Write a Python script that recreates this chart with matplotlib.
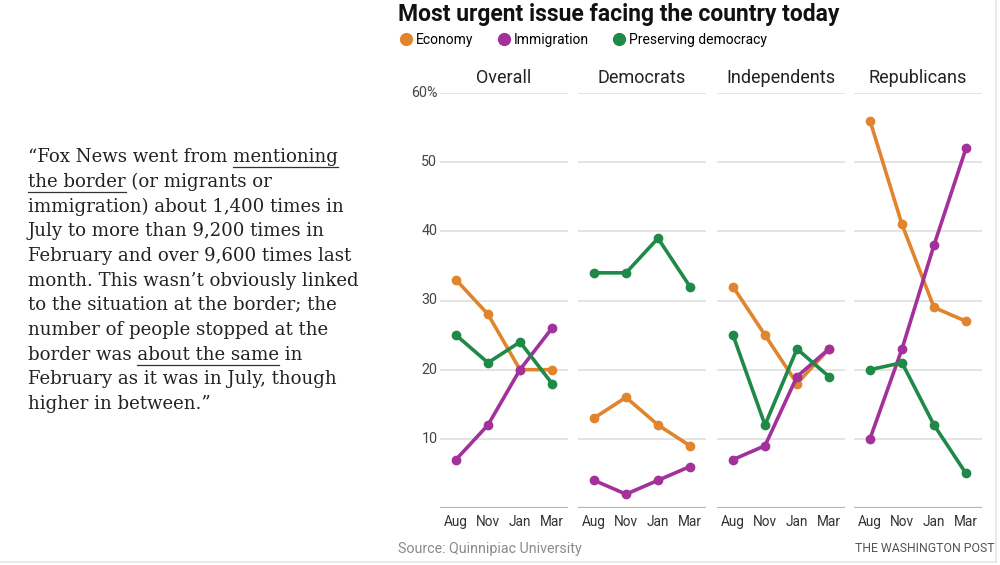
"""Most urgent issue facing the country today -- small multiples with a quote."""

import matplotlib
matplotlib.use("Agg")
import matplotlib.pyplot as plt
from matplotlib.lines import Line2D

# ---- data -----------------------------------------------------------------
months = ["Aug", "Nov", "Jan", "Mar"]
groups = ["Overall", "Democrats", "Independents", "Republicans"]
issues = ["Economy", "Immigration", "Preserving democracy"]

economy = {
    "Overall": [33, 28, 20, 20],
    "Democrats": [13, 16, 12, 9],
    "Independents": [32, 25, 18, 23],
    "Republicans": [56, 41, 29, 27],
}
immigration = {
    "Overall": [7, 12, 20, 26],
    "Democrats": [4, 2, 4, 6],
    "Independents": [7, 9, 19, 23],
    "Republicans": [10, 23, 38, 52],
}
democracy = {
    "Overall": [25, 21, 24, 18],
    "Democrats": [34, 34, 39, 32],
    "Independents": [25, 12, 23, 19],
    "Republicans": [20, 21, 12, 5],
}
y_ticks = [10, 20, 30, 40, 50, 60]
y_tick_labels = ["10", "20", "30", "40", "50", "60%"]

quote_lines = [
    "\u201cFox News went from mentioning",
    "the border (or migrants or",
    "immigration) about 1,400 times in",
    "July to more than 9,200 times in",
    "February and over 9,600 times last",
    "month. This wasn\u2019t obviously linked",
    "to the situation at the border; the",
    "number of people stopped at the",
    "border was about the same in",
    "February as it was in July, though",
    "higher in between.\u201d",
]
# (line index, start char, end char) of underlined spans
underlines = [(0, 20, 30), (1, 0, 10), (8, 11, 25)]

# ---- style ----------------------------------------------------------------
colors = {
    "Economy": "#e0852d",
    "Immigration": "#a3309b",
    "Preserving democracy": "#1f8a48",
}
series = {"Economy": economy, "Immigration": immigration,
          "Preserving democracy": democracy}
SANS = ["Roboto", "DejaVu Sans"]
SERIF = ["DejaVu Serif"]

W, H = 1000, 565
fig = plt.figure(figsize=(W / 100, H / 100), dpi=100)
fig.patch.set_facecolor("white")


def fx(px):
    return px / W


def fy(py):
    return 1 - py / H


# ---- panels ---------------------------------------------------------------
panel_left = [440, 578, 717, 854]
panel_w = 128
y_top, y_bot = 93, 508

for k, grp in enumerate(groups):
    ax = fig.add_axes([fx(panel_left[k]), fy(y_bot), fx(panel_w),
                       (y_bot - y_top) / H])
    ax.set_xlim(-0.5, 3.5)
    ax.set_ylim(0, 60)
    for s in ax.spines.values():
        s.set_visible(False)
    for yv in y_ticks:
        ax.axhline(yv, color="#dcdcdc", lw=1.1, zorder=1)
    ax.axhline(0, color="#b5b5b5", lw=1.6, zorder=1)
    for issue in issues:
        ax.plot(range(len(months)), series[issue][grp], color=colors[issue],
                lw=2.6, marker="o", ms=6, zorder=3, clip_on=False,
                solid_capstyle="round")
    ax.set_xticks(range(len(months)))
    ax.set_xticklabels(months, fontsize=9.8, color="#333333", family=SANS)
    ax.tick_params(axis="x", length=0, pad=5)
    ax.set_yticks([])
    if k == 0:
        for yv, lab in zip(y_ticks, y_tick_labels):
            ax.text(-0.02, yv, lab, transform=ax.get_yaxis_transform(),
                    ha="right", va="center", fontsize=10.3, color="#444444",
                    family=SANS)
    ax.set_title(grp, fontsize=13, color="#222222", family=SANS, pad=7)

# ---- title, legend, credits ----------------------------------------------
fig.text(fx(398), fy(15), "Most urgent issue facing the country today",
         fontsize=16.5, fontweight="bold", color="#111111", family=SANS,
         ha="left", va="center")

handles = [Line2D([0], [0], marker="o", color="w", markerfacecolor=colors[i],
                  markeredgecolor=colors[i], markersize=8.5, label=i)
           for i in issues]
fig.legend(handles=handles, loc="center left",
           bbox_to_anchor=(fx(392), fy(40)), ncol=3, frameon=False,
           prop={"family": SANS, "size": 10}, handletextpad=0.15,
           columnspacing=1.55, handlelength=1.2, borderaxespad=0)

fig.text(fx(398), fy(549), "Source: Quinnipiac University", fontsize=10.3,
         color="#8a8a8a", family=SANS, ha="left", va="center")
fig.text(fx(995), fy(549), "THE WASHINGTON POST", fontsize=8.8,
         color="#555555", family=SANS, ha="right", va="center")

# ---- quote with underlines ------------------------------------------------
renderer = fig.canvas.get_renderer()
qx, qy0, qdy = 28, 157, 24.7
q_size = 13.1
for i, line in enumerate(quote_lines):
    fig.text(fx(qx), fy(qy0 + i * qdy), line, fontsize=q_size,
             color="#222222", family=SERIF, ha="left", va="center")


def text_width(s):
    t = fig.text(0, 0, s, fontsize=q_size, family=SERIF)
    w = t.get_window_extent(renderer).width if s else 0.0
    t.remove()
    return w


for li, a, b in underlines:
    line = quote_lines[li]
    x0 = qx + text_width(line[:a].replace(" ", "\u00a0"))
    x1 = qx + text_width(line[:b].replace(" ", "\u00a0"))
    yline = qy0 + li * qdy + 10
    fig.add_artist(Line2D([fx(x0), fx(x1)], [fy(yline), fy(yline)],
                          transform=fig.transFigure, color="#333333", lw=0.9))

# faint frame at right and bottom edges
fig.add_artist(Line2D([fx(996), fx(996)], [fy(0), fy(562)],
                      transform=fig.transFigure, color="#e2e6ea", lw=1.2))
fig.add_artist(Line2D([fx(0), fx(996)], [fy(562), fy(562)],
                      transform=fig.transFigure, color="#e2e6ea", lw=1.2))

fig.savefig("out.png", dpi=100, facecolor="white")
